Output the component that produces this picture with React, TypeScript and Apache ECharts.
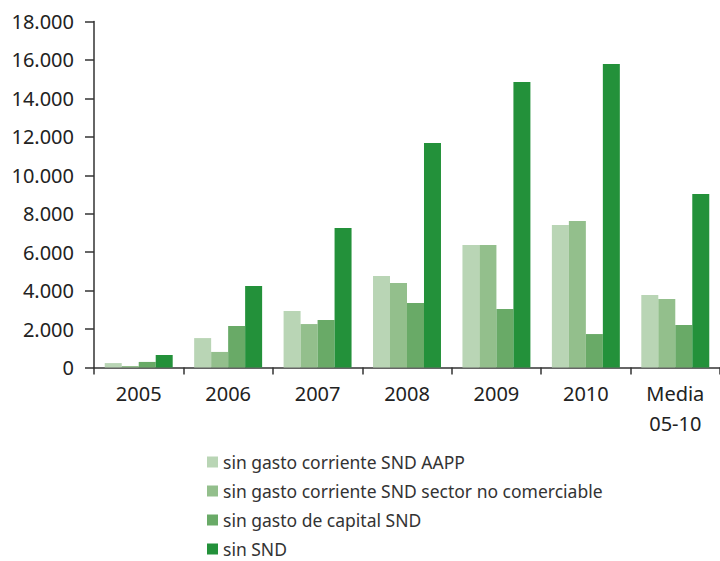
import React, { useEffect, useRef } from "react";
import * as echarts from "echarts";

const categories = ["2005", "2006", "2007", "2008", "2009", "2010", "Media\n05-10"];
const seriesNames = [
  "sin gasto corriente SND AAPP",
  "sin gasto corriente SND sector no comerciable",
  "sin gasto de capital SND",
  "sin SND",
];
const aapp = [230, 1530, 2940, 4760, 6370, 7410, 3770];
const noComerciable = [80, 810, 2260, 4400, 6370, 7620, 3560];
const capital = [290, 2160, 2470, 3360, 3040, 1740, 2210];
const sinSnd = [650, 4240, 7260, 11680, 14850, 15790, 9020];
const colors = ["#b9d5b5", "#93bf8c", "#69aa67", "#23913a"];

const fmt = (v: number) => {
  const s = String(v);
  return s.length > 3 ? s.slice(0, s.length - 3) + "." + s.slice(s.length - 3) : s;
};

export default function App() {
  const ref = useRef<HTMLDivElement>(null);
  useEffect(() => {
    document.body.style.margin = "0";
    const chart = echarts.init(ref.current!, null, { renderer: "svg" });
    const font = "'Noto Sans', sans-serif";
    const data = [aapp, noComerciable, capital, sinSnd];
    chart.setOption({
      animation: false,
      textStyle: { fontFamily: font },
      grid: { left: 94, top: 21.5, width: 630, height: 346 },
      legend: {
        orient: "vertical",
        left: 202,
        top: 448,
        height: 113,
        itemWidth: 11,
        itemHeight: 11,
        itemGap: 11,
        icon: "rect",
        data: seriesNames,
        textStyle: { fontSize: 17.5, color: "#333", fontFamily: font },
      },
      xAxis: {
        type: "category",
        data: categories,
        axisLine: { lineStyle: { color: "#333", width: 1.5 } },
        axisTick: { show: true, length: 7, lineStyle: { color: "#333", width: 1.5 } },
        axisLabel: { fontSize: 20, color: "#222", margin: 11, lineHeight: 30, fontFamily: font },
      },
      yAxis: {
        type: "value",
        min: 0,
        max: 18000,
        interval: 2000,
        splitLine: { show: false },
        axisLine: { show: true, lineStyle: { color: "#333", width: 1.5 } },
        axisTick: { show: true, length: 9, lineStyle: { color: "#333", width: 1.5 } },
        axisLabel: { fontSize: 20, color: "#222", margin: 20, formatter: (v: number) => fmt(v), fontFamily: font },
      },
      series: seriesNames.map((name, i) => ({
        name,
        type: "bar",
        data: data[i],
        barGap: "0%",
        barCategoryGap: "24%",
        itemStyle: { color: colors[i] },
      })),
    });
    return () => chart.dispose();
  }, []);
  return <div ref={ref} style={{ width: 720, height: 561 }} />;
}
